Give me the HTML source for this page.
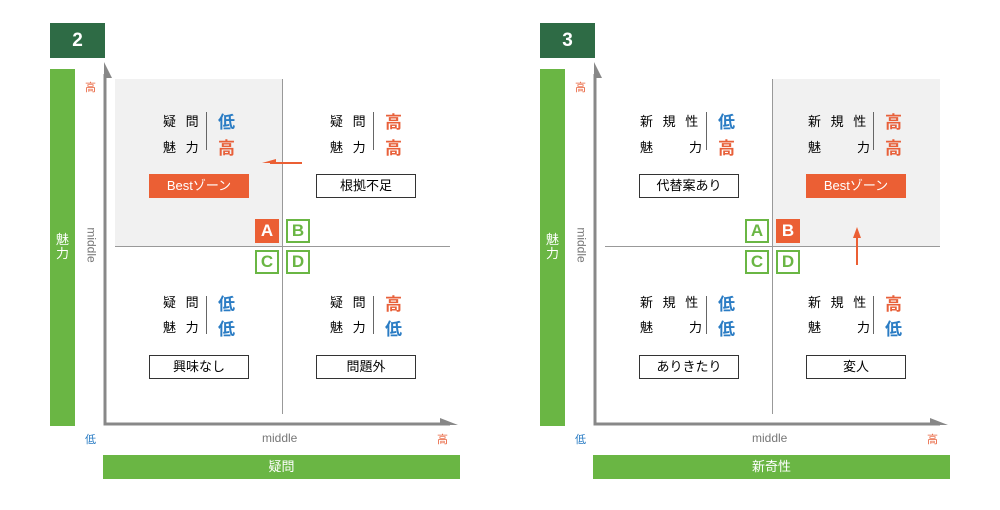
<!DOCTYPE html>
<html><head><meta charset="utf-8"><style>
body{margin:0;width:1000px;height:510px;background:#fff;position:relative;font-family:"Liberation Sans","Noto Sans CJK JP",sans-serif;overflow:hidden}
.a{position:absolute}
.t{position:absolute;background:#2e6b45;color:#fff;font-weight:bold;font-size:19px;text-align:center;line-height:35px;width:55px;height:35px;top:23px}
.gv{position:absolute;background:#6ab644;width:25px;top:69px;height:357px;color:#fff;font-size:13px;text-align:center}
.gh{position:absolute;background:#6ab644;top:455px;height:24px;color:#fff;font-size:13px;text-align:center;line-height:24px;width:357px}
.lab{position:absolute;font-size:13px;color:#000;letter-spacing:3px;white-space:nowrap}
.v{position:absolute;font-size:17px;font-weight:bold}
.hi{color:#e8603a}.lo{color:#2a7cc4}
.sep{position:absolute;width:1px;height:38px;background:#666}
.box{position:absolute;width:98px;height:22px;border:1px solid #333;background:#fff;font-size:13px;text-align:center;line-height:22px}
.best{background:#eb5f34;border-color:#eb5f34;color:#fff}
.sq{position:absolute;width:20px;height:20px;font-weight:bold;font-size:17px;text-align:center;line-height:20px}
.go{border:2px solid #6ab644;color:#6ab644;background:#fff}
.of{border:2px solid #eb5f34;background:#eb5f34;color:#fff}
.small{position:absolute;font-size:11px}
.mid{position:absolute;font-size:12px;color:#777}
</style></head><body>
<svg class="a" style="left:0;top:0" width="1000" height="510">
<rect x="115" y="79" width="167" height="167" fill="#f1f1f1"/>
<rect x="772" y="79" width="168" height="167" fill="#f1f1f1"/>
<g stroke="#999" stroke-width="1"><line x1="282.5" y1="79" x2="282.5" y2="414"/><line x1="115" y1="246.5" x2="450" y2="246.5"/>
<line x1="772.5" y1="79" x2="772.5" y2="414"/><line x1="605" y1="246.5" x2="940" y2="246.5"/></g>
<g stroke="#888" stroke-width="3" fill="none"><polyline points="105,74 105,424 450,424"/><polyline points="595,74 595,424 940,424"/></g>
<g fill="#888"><polygon points="104,62 112,78 104,78"/><polygon points="458,425 440,425 440,418"/><polygon points="594,62 602,78 594,78"/><polygon points="948,425 930,425 930,418"/></g>
<g stroke="#eb5f34" stroke-width="2"><line x1="302" y1="163" x2="270" y2="163"/><line x1="857" y1="265" x2="857" y2="236"/></g>
<g fill="#eb5f34"><polygon points="262,163 276,159 276,163"/><polygon points="857,227 853,238 861,238"/></g>
</svg>
<div class="t" style="left:50px">2</div><div class="t" style="left:540px">3</div>
<div class="gv" style="left:50px"><div style="margin-top:164px;line-height:14px">魅<br>力</div></div>
<div class="gv" style="left:540px"><div style="margin-top:164px;line-height:14px">魅<br>力</div></div>
<div class="gh" style="left:103px">疑問</div><div class="gh" style="left:593px">新奇性</div>
<div class="small hi" style="left:85px;top:79px">高</div><div class="small lo" style="left:85px;top:431px">低</div><div class="small hi" style="left:437px;top:431px">高</div>
<div class="small hi" style="left:575px;top:79px">高</div><div class="small lo" style="left:575px;top:431px">低</div><div class="small hi" style="left:927px;top:431px">高</div>
<div class="mid" style="left:262px;top:431px">middle</div><div class="mid" style="left:752px;top:431px">middle</div>
<div class="mid" style="left:74px;top:238px;transform:rotate(90deg);transform-origin:center">middle</div>
<div class="mid" style="left:564px;top:238px;transform:rotate(90deg);transform-origin:center">middle</div>

<!-- panel 2 -->
<div class="lab" style="left:163px;top:111px">疑 問</div><div class="lab" style="left:163px;top:137px">魅 力</div><div class="sep" style="left:206px;top:112px"></div><div class="v lo" style="left:218px;top:108px">低</div><div class="v hi" style="left:218px;top:134px">高</div>
<div class="lab" style="left:330px;top:111px">疑 問</div><div class="lab" style="left:330px;top:137px">魅 力</div><div class="sep" style="left:373px;top:112px"></div><div class="v hi" style="left:385px;top:108px">高</div><div class="v hi" style="left:385px;top:134px">高</div>
<div class="lab" style="left:163px;top:292px">疑 問</div><div class="lab" style="left:163px;top:317px">魅 力</div><div class="sep" style="left:206px;top:296px"></div><div class="v lo" style="left:218px;top:290px">低</div><div class="v lo" style="left:218px;top:315px">低</div>
<div class="lab" style="left:330px;top:292px">疑 問</div><div class="lab" style="left:330px;top:317px">魅 力</div><div class="sep" style="left:373px;top:296px"></div><div class="v hi" style="left:385px;top:290px">高</div><div class="v lo" style="left:385px;top:315px">低</div>
<div class="box best" style="left:149px;top:174px">Bestゾーン</div><div class="box" style="left:316px;top:174px">根拠不足</div>
<div class="box" style="left:149px;top:355px">興味なし</div><div class="box" style="left:316px;top:355px">問題外</div>
<div class="sq of" style="left:255px;top:219px">A</div><div class="sq go" style="left:286px;top:219px">B</div><div class="sq go" style="left:255px;top:250px">C</div><div class="sq go" style="left:286px;top:250px">D</div>

<!-- panel 3 -->
<div class="lab" style="left:640px;top:111px">新 規 性</div><div class="lab" style="left:640px;top:137px">魅&nbsp;&nbsp;&nbsp;&nbsp;&nbsp;力</div><div class="sep" style="left:706px;top:112px"></div><div class="v lo" style="left:718px;top:108px">低</div><div class="v hi" style="left:718px;top:134px">高</div>
<div class="lab" style="left:808px;top:111px">新 規 性</div><div class="lab" style="left:808px;top:137px">魅&nbsp;&nbsp;&nbsp;&nbsp;&nbsp;力</div><div class="sep" style="left:873px;top:112px"></div><div class="v hi" style="left:885px;top:108px">高</div><div class="v hi" style="left:885px;top:134px">高</div>
<div class="lab" style="left:640px;top:292px">新 規 性</div><div class="lab" style="left:640px;top:317px">魅&nbsp;&nbsp;&nbsp;&nbsp;&nbsp;力</div><div class="sep" style="left:706px;top:296px"></div><div class="v lo" style="left:718px;top:290px">低</div><div class="v lo" style="left:718px;top:315px">低</div>
<div class="lab" style="left:808px;top:292px">新 規 性</div><div class="lab" style="left:808px;top:317px">魅&nbsp;&nbsp;&nbsp;&nbsp;&nbsp;力</div><div class="sep" style="left:873px;top:296px"></div><div class="v hi" style="left:885px;top:290px">高</div><div class="v lo" style="left:885px;top:315px">低</div>
<div class="box" style="left:639px;top:174px">代替案あり</div><div class="box best" style="left:806px;top:174px">Bestゾーン</div>
<div class="box" style="left:639px;top:355px">ありきたり</div><div class="box" style="left:806px;top:355px">変人</div>
<div class="sq go" style="left:745px;top:219px">A</div><div class="sq of" style="left:776px;top:219px">B</div><div class="sq go" style="left:745px;top:250px">C</div><div class="sq go" style="left:776px;top:250px">D</div>
</body></html>
